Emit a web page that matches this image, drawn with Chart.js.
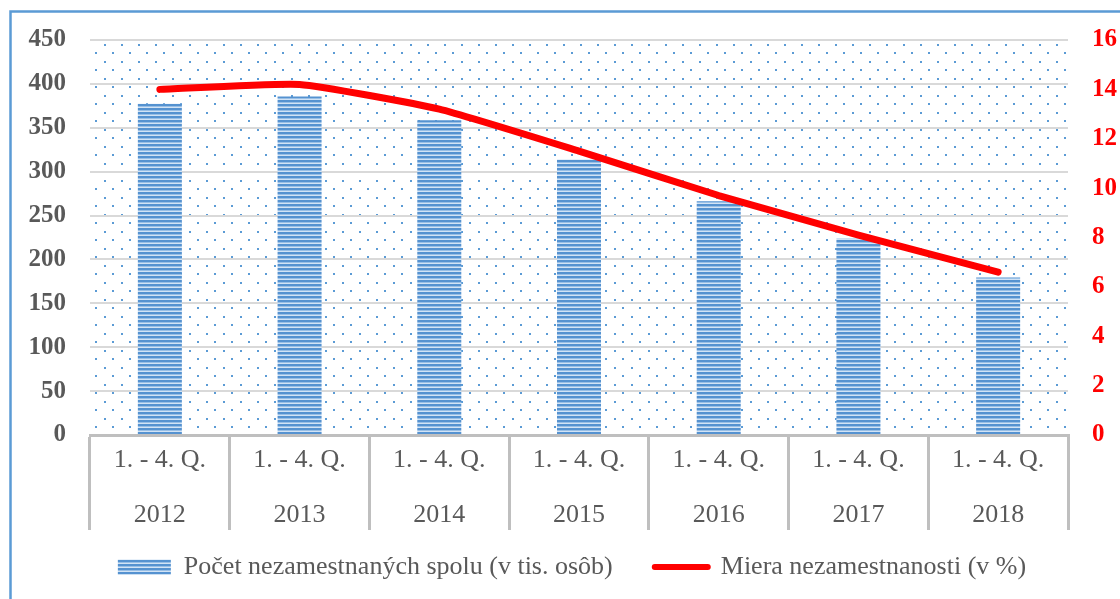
<!DOCTYPE html>
<html>
<head>
<meta charset="utf-8">
<script src="https://cdn.jsdelivr.net/npm/chart.js@4"></script>
<style>
  html, body { margin: 0; padding: 0; background: #fff; }
  #wrap { width: 1120px; height: 599px; position: relative; }
</style>
</head>
<body>
<div id="wrap"><canvas id="unempChart" width="1120" height="599"></canvas></div>
<script>
// data
const periods = ['1. - 4. Q.', '1. - 4. Q.', '1. - 4. Q.', '1. - 4. Q.', '1. - 4. Q.', '1. - 4. Q.', '1. - 4. Q.'];
const years = ['2012', '2013', '2014', '2015', '2016', '2017', '2018'];
const unemployed = [377.5, 385.6, 358.7, 314.0, 266.4, 223.9, 179.5];
const unemploymentRate = [14.0, 14.2, 13.2, 11.5, 9.7, 8.1, 6.6];
const barLabel = 'Počet nezamestnaných spolu (v tis. osôb)';
const lineLabel = 'Miera nezamestnanosti (v %)';

const labels = years.map((y, i) => [periods[i], y]);

document.addEventListener("DOMContentLoaded", function() {
  const ctx = document.getElementById('unempChart').getContext('2d');

  // horizontal stripes for the bars
  const stripe = document.createElement('canvas');
  stripe.width = 4; stripe.height = 4;
  const sc = stripe.getContext('2d');
  sc.fillStyle = '#5592d0'; sc.fillRect(0, 0, 4, 2);
  sc.fillStyle = '#98bfe6'; sc.fillRect(0, 2, 4, 1);
  sc.fillStyle = '#d2e3f5'; sc.fillRect(0, 3, 4, 1);
  const barPattern = ctx.createPattern(stripe, 'repeat');

  // dotted background of the plot area
  const dots = document.createElement('canvas');
  dots.width = 17; dots.height = 17;
  const dc = dots.getContext('2d');
  dc.fillStyle = '#5b9bd5';
  dc.fillRect(9, 0, 2, 2);
  dc.fillRect(0, 8, 2, 2);
  const dotPattern = ctx.createPattern(dots, 'repeat');

  const backdrop = {
    id: 'backdrop',
    afterLayout(chart) {
      // nudge the legend to where it sits in the original
      const lg = chart.legend;
      lg.left += 12; lg.right += 12;
      lg.top -= 18; lg.bottom -= 18;
    },
    beforeDraw(chart) {
      const {ctx, chartArea: a} = chart;
      ctx.save();
      ctx.translate(95, 44);
      ctx.fillStyle = dotPattern;
      ctx.fillRect(a.left - 95, a.top - 44, a.right - a.left, a.bottom - a.top);
      ctx.restore();
    },
    afterDraw(chart) {
      const c = chart.ctx;
      c.save();
      c.strokeStyle = '#5b9bd5';
      c.lineWidth = 2.5;
      c.strokeRect(10.5, 11.5, 1300, 800);
      c.restore();
    }
  };

  const serif = 'Liberation Serif, Times New Roman, serif';

  new Chart(ctx, {
    type: 'bar',
    data: {
      labels: labels,
      datasets: [
        {
          type: 'line',
          label: lineLabel,
          data: unemploymentRate,
          yAxisID: 'y1',
          borderColor: '#ff0000',
          borderWidth: 7,
          borderCapStyle: 'round',
          borderJoinStyle: 'round',
          pointRadius: 0,
          tension: 0.15,
          order: 0
        },
        {
          label: barLabel,
          data: unemployed,
          yAxisID: 'y',
          backgroundColor: barPattern,
          borderWidth: 0,
          categoryPercentage: 1,
          barPercentage: 0.315,
          order: 1
        }
      ]
    },
    options: {
      responsive: false,
      animation: false,
      layout: { padding: { top: 40, left: 0, right: 0, bottom: 0 } },
      plugins: {
        tooltip: { enabled: false },
        legend: {
          position: 'bottom',
          maxHeight: 69,
          labels: {
            usePointStyle: true,
            pointStyleWidth: 53,
            boxHeight: 15,
            padding: 42,
            color: '#595959',
            font: { family: serif, size: 26 },
            generateLabels: function() {
              return [
                { text: barLabel, fillStyle: barPattern, strokeStyle: 'rgba(0,0,0,0)', lineWidth: 0, pointStyle: 'rect', datasetIndex: 1, fontColor: '#595959' },
                { text: lineLabel, fillStyle: '#ff0000', strokeStyle: '#ff0000', lineWidth: 6, lineCap: 'round', pointStyle: 'line', datasetIndex: 0, fontColor: '#595959' }
              ];
            }
          }
        }
      },
      scales: {
        x: {
          offset: true,
          grid: { offset: true, drawOnChartArea: false, drawTicks: true, tickLength: 95, color: '#bfbfbf', lineWidth: 3 },
          border: { display: true, color: '#bfbfbf', width: 3 },
          ticks: {
            color: '#595959',
            autoSkip: false,
            maxRotation: 0,
            padding: -97.5,
            font: { family: serif, size: 26, lineHeight: '55px' }
          },
          afterFit(scale) { scale.height = 95; }
        },
        y: {
          position: 'left',
          min: 0, max: 450,
          grid: { color: '#d9d9d9', lineWidth: 2, drawTicks: false },
          border: { display: false },
          ticks: { stepSize: 50, padding: 24, color: '#595959', font: { family: serif, size: 25, weight: 'bold' } },
          afterFit(scale) { scale.width = 90; }
        },
        y1: {
          position: 'right',
          min: 0, max: 16,
          grid: { drawOnChartArea: false, drawTicks: false },
          border: { display: false },
          ticks: { stepSize: 2, padding: 24, color: '#ff0000', font: { family: serif, size: 25, weight: 'bold' } },
          afterFit(scale) { scale.width = 52; }
        }
      }
    },
    plugins: [backdrop]
  });
});
</script>
</body>
</html>
